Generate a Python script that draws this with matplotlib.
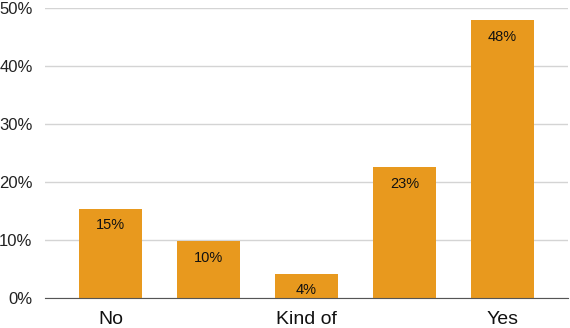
import matplotlib
matplotlib.use("Agg")
import matplotlib.pyplot as plt
from matplotlib.ticker import FuncFormatter

plt.rcParams["font.family"] = ["Liberation Sans", "DejaVu Sans"]

# Survey answers
categories = ["No", "", "Kind of", "", "Yes"]
values = [15.4, 9.8, 4.2, 22.6, 47.9]
labels = ["15%", "10%", "4%", "23%", "48%"]
yticks = [0, 10, 20, 30, 40, 50]

fig = plt.figure(figsize=(5.7, 3.28), dpi=100)
ax = fig.add_axes([45 / 570, 30 / 328, 523 / 570, 290 / 328])

x = range(len(values))
bars = ax.bar(x, values, width=0.64, color="#E8991E", zorder=3)

for b, lab in zip(bars, labels):
    ax.annotate(lab, (b.get_x() + b.get_width() / 2, b.get_height()),
                xytext=(0, -12), textcoords="offset points",
                ha="center", va="center", fontsize=10.5, color="#111111", zorder=4)

ax.set_xlim(-0.67, 4.67)
ax.set_ylim(0, 50)
ax.set_yticks(yticks)
ax.yaxis.set_major_formatter(FuncFormatter(lambda v, p: "%d%%" % v))
ax.set_xticks(list(x))
ax.set_xticklabels(categories, fontsize=14)

ax.grid(axis="y", color="#d4d4d4", linewidth=1, zorder=0)
for s in ["top", "right", "left"]:
    ax.spines[s].set_visible(False)
ax.spines["bottom"].set_color("#555555")
ax.spines["bottom"].set_zorder(5)
ax.tick_params(axis="both", length=0)
ax.tick_params(axis="y", labelsize=12, pad=9, labelcolor="#222222")
ax.tick_params(axis="x", pad=9, labelcolor="#111111")

fig.savefig("out.png", dpi=100)
